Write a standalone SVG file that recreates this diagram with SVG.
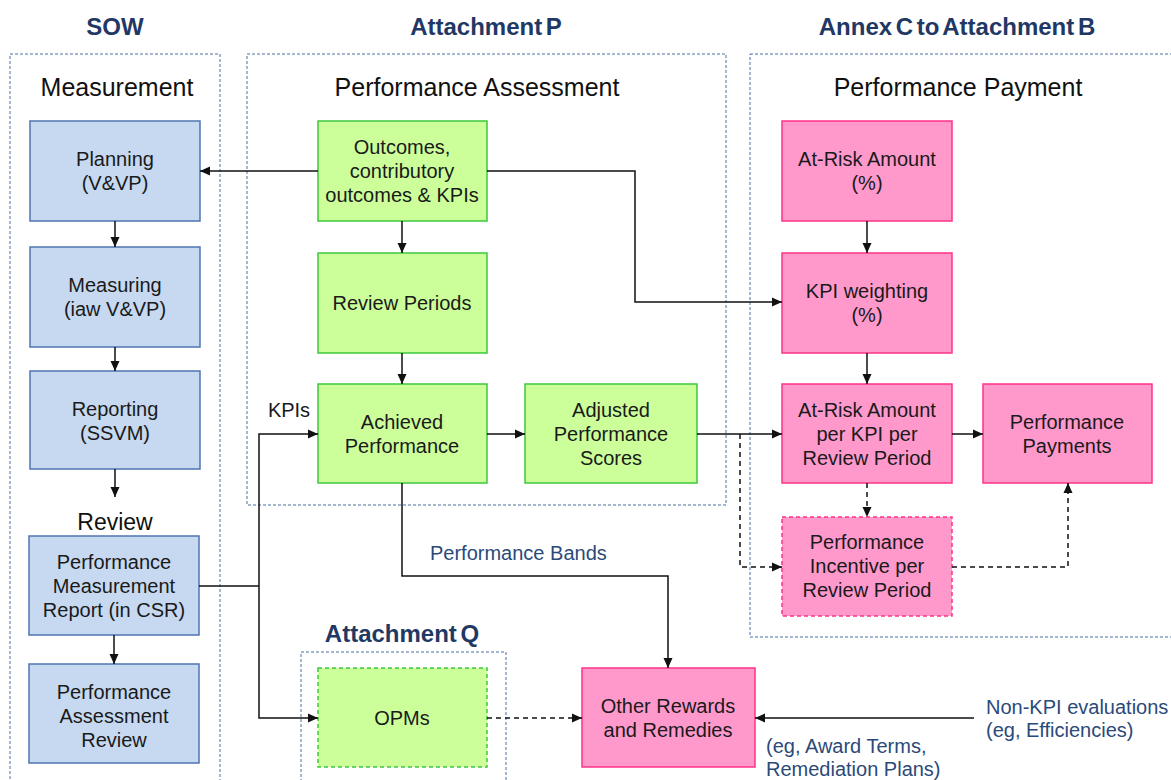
<svg xmlns="http://www.w3.org/2000/svg" width="1171" height="780" viewBox="0 0 1171 780">
<defs>
<marker id="arr" viewBox="0 0 10 10" refX="10" refY="5" markerWidth="10" markerHeight="10" markerUnits="userSpaceOnUse" orient="auto">
<path d="M0,0.5 L10,5 L0,9.5 z" fill="#111"/>
</marker>
</defs>
<style>
.cont{fill:none;stroke:#4A6FA5;stroke-width:1;stroke-dasharray:3 2}
.hdr{font-family:"Liberation Sans",Arial,sans-serif;font-weight:bold;font-size:24px;fill:#1F3864;text-anchor:middle;word-spacing:-3px}
.sec{font-family:"Liberation Sans",Arial,sans-serif;font-size:25px;fill:#111;text-anchor:middle}
.blue{fill:#C6D9F1;stroke:#4F75B0;stroke-width:1.5}
.green{fill:#CCFF99;stroke:#3CC83C;stroke-width:1.5}
.pink{fill:#FF99CC;stroke:#FF3388;stroke-width:1.5}
.dash{stroke-dasharray:4 3}
.t{font-family:"Liberation Sans",Arial,sans-serif;font-size:20px;fill:#1a1a1a;text-anchor:middle}
.lbl{font-family:"Liberation Sans",Arial,sans-serif;font-size:20px;fill:#2B4A7A}
.ln{fill:none;stroke:#111;stroke-width:1.5}
.dl{fill:none;stroke:#111;stroke-width:1.5;stroke-dasharray:5 4}
</style>
<rect width="1171" height="780" fill="#fff"/>

<g id="containers">
<rect class="cont" x="10" y="54" width="210" height="740"/>
<rect class="cont" x="247" y="54" width="479" height="451"/>
<rect class="cont" x="750" y="54" width="440" height="583"/>
<rect class="cont" x="301" y="652" width="205" height="140"/>
</g>

<g id="headers">
<text class="hdr" x="115" y="35">SOW</text>
<text class="hdr" x="486" y="35">Attachment P</text>
<text class="hdr" x="957" y="35">Annex C to Attachment B</text>
<text class="hdr" x="402" y="642">Attachment Q</text>
<text class="sec" x="117" y="96">Measurement</text>
<text class="sec" x="477" y="96">Performance Assessment</text>
<text class="sec" x="958" y="96">Performance Payment</text>
<text class="sec" x="115" y="530" style="font-size:23px">Review</text>
</g>

<g id="n-planning"><rect class="blue" x="30" y="121" width="170" height="100"/>
<text class="t" x="115"><tspan x="115" y="166">Planning</tspan><tspan x="115" y="190">(V&amp;VP)</tspan></text></g>
<g id="n-measuring"><rect class="blue" x="30" y="247" width="170" height="100"/>
<text class="t" x="115"><tspan x="115" y="292">Measuring</tspan><tspan x="115" y="316">(iaw V&amp;VP)</tspan></text></g>
<g id="n-reporting"><rect class="blue" x="30" y="371" width="170" height="98"/>
<text class="t" x="115"><tspan x="115" y="416">Reporting</tspan><tspan x="115" y="440">(SSVM)</tspan></text></g>
<g id="n-pmr"><rect class="blue" x="29" y="536" width="170" height="99"/>
<text class="t" x="114"><tspan x="114" y="569">Performance</tspan><tspan x="114" y="593">Measurement</tspan><tspan x="114" y="617">Report (in CSR)</tspan></text></g>
<g id="n-par"><rect class="blue" x="29" y="664" width="170" height="99"/>
<text class="t" x="114"><tspan x="114" y="699">Performance</tspan><tspan x="114" y="723">Assessment</tspan><tspan x="114" y="747">Review</tspan></text></g>

<g id="n-outcomes"><rect class="green" x="318" y="121" width="169" height="100"/>
<text class="t"><tspan x="402" y="154">Outcomes,</tspan><tspan x="402" y="178">contributory</tspan><tspan x="402" y="202">outcomes &amp; KPIs</tspan></text></g>
<g id="n-reviewperiods"><rect class="green" x="318" y="253" width="169" height="100"/>
<text class="t"><tspan x="402" y="310">Review Periods</tspan></text></g>
<g id="n-achieved"><rect class="green" x="318" y="384" width="169" height="99"/>
<text class="t"><tspan x="402" y="429">Achieved</tspan><tspan x="402" y="453">Performance</tspan></text></g>
<g id="n-adjusted"><rect class="green" x="525" y="384" width="172" height="99"/>
<text class="t"><tspan x="611" y="417">Adjusted</tspan><tspan x="611" y="441">Performance</tspan><tspan x="611" y="465">Scores</tspan></text></g>
<g id="n-opms"><rect class="green dash" x="318" y="668" width="169" height="99"/>
<text class="t"><tspan x="402" y="725">OPMs</tspan></text></g>

<g id="n-atrisk"><rect class="pink" x="782" y="121" width="170" height="100"/>
<text class="t"><tspan x="867" y="166">At-Risk Amount</tspan><tspan x="867" y="190">(%)</tspan></text></g>
<g id="n-kpiweight"><rect class="pink" x="782" y="253" width="170" height="100"/>
<text class="t"><tspan x="867" y="298">KPI weighting</tspan><tspan x="867" y="322">(%)</tspan></text></g>
<g id="n-atriskkpi"><rect class="pink" x="782" y="384" width="170" height="99"/>
<text class="t"><tspan x="867" y="417">At-Risk Amount</tspan><tspan x="867" y="441">per KPI per</tspan><tspan x="867" y="465">Review Period</tspan></text></g>
<g id="n-payments"><rect class="pink" x="983" y="384" width="169" height="99"/>
<text class="t"><tspan x="1067" y="429">Performance</tspan><tspan x="1067" y="453">Payments</tspan></text></g>
<g id="n-incentive"><rect class="pink dash" x="782" y="517" width="170" height="99"/>
<text class="t"><tspan x="867" y="549">Performance</tspan><tspan x="867" y="573">Incentive per</tspan><tspan x="867" y="597">Review Period</tspan></text></g>
<g id="n-otherrewards"><rect class="pink" x="582" y="668" width="173" height="99"/>
<text class="t"><tspan x="668" y="713">Other Rewards</tspan><tspan x="668" y="737">and Remedies</tspan></text></g>

<g id="connectors">
<line class="ln" x1="318" y1="171" x2="200" y2="171" marker-end="url(#arr)"/>
<polyline class="ln" points="487,171 635,171 635,302 782,302" marker-end="url(#arr)"/>
<line class="ln" x1="402" y1="221" x2="402" y2="253" marker-end="url(#arr)"/>
<line class="ln" x1="402" y1="353" x2="402" y2="384" marker-end="url(#arr)"/>
<line class="ln" x1="115" y1="221" x2="115" y2="247" marker-end="url(#arr)"/>
<line class="ln" x1="115" y1="347" x2="115" y2="371" marker-end="url(#arr)"/>
<line class="ln" x1="115" y1="469" x2="115" y2="497" marker-end="url(#arr)"/>
<line class="ln" x1="114" y1="635" x2="114" y2="664" marker-end="url(#arr)"/>
<line class="ln" x1="199" y1="586" x2="259" y2="586"/>
<polyline class="ln" points="259,586 259,434 318,434" marker-end="url(#arr)"/>
<polyline class="ln" points="259,586 259,718 318,718" marker-end="url(#arr)"/>
<line class="ln" x1="487" y1="434" x2="525" y2="434" marker-end="url(#arr)"/>
<line class="ln" x1="697" y1="434" x2="782" y2="434" marker-end="url(#arr)"/>
<polyline class="dl" points="740,434 740,567 782,567" marker-end="url(#arr)"/>
<line class="dl" x1="867" y1="483" x2="867" y2="517" marker-end="url(#arr)"/>
<polyline class="dl" points="952,567 1068,567 1068,483" marker-end="url(#arr)"/>
<line class="ln" x1="952" y1="434" x2="983" y2="434" marker-end="url(#arr)"/>
<line class="ln" x1="867" y1="221" x2="867" y2="253" marker-end="url(#arr)"/>
<line class="ln" x1="867" y1="353" x2="867" y2="384" marker-end="url(#arr)"/>
<polyline class="ln" points="402,483 402,576 668,576 668,668" marker-end="url(#arr)"/>
<line class="dl" x1="487" y1="718" x2="582" y2="718" marker-end="url(#arr)"/>
<line class="ln" x1="974" y1="718" x2="755" y2="718" marker-end="url(#arr)"/>
</g>

<g id="labels">
<text class="t" x="289" y="417">KPIs</text>
<text class="lbl" x="430" y="560">Performance Bands</text>
<text class="lbl" x="986" y="714">Non-KPI evaluations</text>
<text class="lbl" x="986" y="737">(eg, Efficiencies)</text>
<text class="lbl" x="766" y="753">(eg, Award Terms,</text>
<text class="lbl" x="766" y="776">Remediation Plans)</text>
</g>
</svg>
